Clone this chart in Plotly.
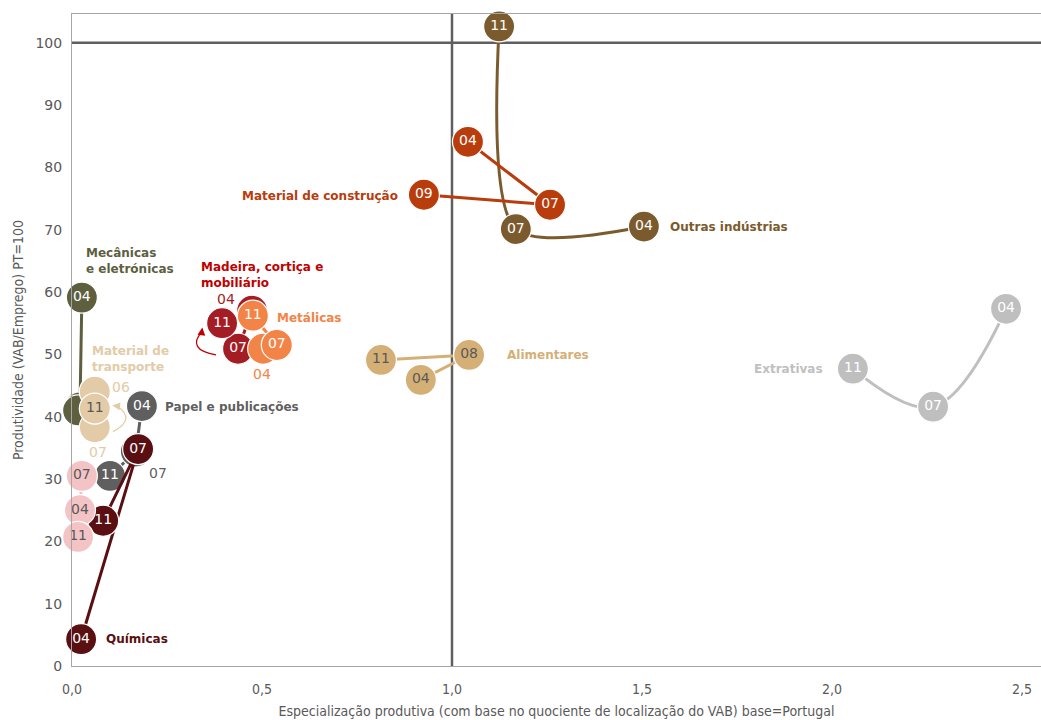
import plotly.graph_objects as go

# ---------------- data ----------------
outras_x = [1.505, 1.168, 1.124]; outras_y = [70.5, 70.1, 102.6]; outras_lbl = ["04", "07", "11"]
constr_x = [1.042, 1.258, 0.926]; constr_y = [84.1, 74.0, 75.6]; constr_lbl = ["04", "07", "09"]
alim_x = [0.918, 1.045, 0.813]; alim_y = [45.9, 49.9, 49.1]; alim_lbl = ["04", "08", "11"]
extr_x = [2.458, 2.266, 2.055]; extr_y = [57.3, 41.6, 47.7]; extr_lbl = ["04", "07", "11"]
mec_x = [0.026, 0.021, 0.016]; mec_y = [59.1, 41.5, 41.0]; mec_lbl = ["04", "", ""]
transp_x = [0.060, 0.060, 0.060]; transp_y = [44.0, 38.3, 41.3]; transp_lbl = ["", "", "11"]
papel_x = [0.184, 0.168, 0.100]; papel_y = [41.7, 34.4, 30.5]; papel_lbl = ["04", "", "11"]
quim_x = [0.024, 0.174, 0.082]; quim_y = [4.3, 34.8, 23.3]; quim_lbl = ["04", "07", "11"]
text_x = [0.021, 0.026, 0.016]; text_y = [25.0, 30.5, 20.7]; text_lbl = ["04", "07", "11"]
mad_x = [0.474, 0.437, 0.395]; mad_y = [57.0, 50.9, 55.0]; mad_lbl = ["", "07", "11"]
met_x = [0.503, 0.539, 0.476]; met_y = [50.9, 51.5, 56.2]; met_lbl = ["", "07", "11"]

x_ticks = [0, 0.5, 1.0, 1.5, 2.0, 2.5]
y_ticks = [0, 10, 20, 30, 40, 50, 60, 70, 80, 90, 100]

FONT = "DejaVu Sans"
COND = "DejaVu Sans Condensed"
GREY = "#595959"

fig = go.Figure()

# reference lines
fig.add_shape(type="line", xref="x", yref="y", x0=0, x1=2.6, y0=100, y1=100,
              line=dict(color="#5f5f5f", width=2.5), layer="below")
fig.add_shape(type="line", xref="x", yref="y", x0=1.0, x1=1.0, y0=0, y1=104.6,
              line=dict(color="#5f5f5f", width=2.5), layer="below")


def series(xs, ys, lbls, color, tcolor, lines=True, spline=False, smoothing=1.0):
    fig.add_trace(go.Scatter(
        x=xs, y=ys, text=lbls,
        mode=("lines+markers+text" if lines else "markers+text"),
        line=dict(color=color, width=3, shape=("spline" if spline else "linear"), smoothing=smoothing),
        marker=dict(size=31, color=color, line=dict(color="white", width=1.2)),
        textposition="middle center",
        textfont=dict(family=FONT, size=14, color=tcolor),
        cliponaxis=False, hoverinfo="skip", showlegend=False))


series(extr_x, extr_y, extr_lbl, "#bfbfbf", "white", spline=True, smoothing=1.1)
series(outras_x, outras_y, outras_lbl, "#7b5b2d", "white", spline=True, smoothing=0.8)
series(constr_x, constr_y, constr_lbl, "#b83c0c", "white")
series(alim_x, alim_y, alim_lbl, "#d4b077", GREY)
series(mec_x[:2], mec_y[:2], mec_lbl[:2], "#5d5f3f", "white")
series(mec_x[2:], mec_y[2:], mec_lbl[2:], "#5d5f3f", "white", lines=False)
series(transp_x, transp_y, transp_lbl, "#e3cba7", GREY, lines=False)
series(papel_x, papel_y, papel_lbl, "#5f5f5f", "white")
series(quim_x, quim_y, quim_lbl, "#5a0f12", "white")
series(text_x[:2], text_y[:2], text_lbl[:2], "#f4c3c5", GREY)
series(text_x[2:], text_y[2:], text_lbl[2:], "#f4c3c5", GREY, lines=False)
series(mad_x[:2], mad_y[:2], mad_lbl[:2], "#a51d24", "white")
series(mad_x[2:], mad_y[2:], mad_lbl[2:], "#a51d24", "white", lines=False)
series(met_x, met_y, met_lbl, "#f28448", "white")


def label(x, y, txt, color, anchor="left", bold=True, size=12):
    fig.add_annotation(x=x, y=y, xref="x", yref="y", text=(f"<b>{txt}</b>" if bold else txt),
                       showarrow=False, xanchor=anchor, yanchor="middle",
                       align=anchor if anchor != "center" else "center",
                       font=dict(family=FONT, size=size, color=color))


label(1.568, 70.5, "Outras indústrias", "#7b5b2d")
label(0.863, 75.4, "Material de construção", "#b83c0c", anchor="right")
label(1.139, 49.9, "Alimentares", "#d4b077")
label(1.982, 47.7, "Extrativas", "#bfbfbf", anchor="right")
label(0.032, 65.0, "Mecânicas<br>e eletrónicas", "#5d5f3f")
label(0.334, 62.8, "Madeira, cortiça e<br>mobiliário", "#c00000")
label(0.534, 55.9, "Metálicas", "#f28448")
label(0.047, 49.3, "Material de<br>transporte", "#e3cba7")
label(0.239, 41.6, "Papel e publicações", "#5f5f5f")
label(-0.053, 14.2, "Têxtil,<br>vestuário<br>e calçado", "#f4c3c5", anchor="center")
label(0.084, 4.3, "Químicas", "#5a0f12")

# year labels placed outside markers
label(-0.026, 44.8, "07", "#5d5f3f", anchor="center", bold=False, size=14)
label(-0.013, 36.3, "11", "#5d5f3f", anchor="center", bold=False, size=14)
label(0.129, 44.8, "06", "#e3cba7", anchor="center", bold=False, size=14)
label(0.068, 34.3, "07", "#e3cba7", anchor="center", bold=False, size=14)
label(0.226, 31.0, "07", "#5f5f5f", anchor="center", bold=False, size=14)
label(0.405, 58.9, "04", "#a51d24", anchor="center", bold=False, size=14)
label(0.500, 46.9, "04", "#f28448", anchor="center", bold=False, size=14)

# curved arrows
fig.add_shape(type="path", xref="x", yref="y", path="M 0.379,49.9 Q 0.300,50.8 0.342,53.6",
              line=dict(color="#c00000", width=1.3))
fig.add_annotation(x=0.343, y=54.3, xref="x", yref="y", ax=-1, ay=8, showarrow=True, text="",
                   arrowhead=2, arrowsize=1.2, arrowwidth=1.3, arrowcolor="#c00000")
fig.add_shape(type="path", xref="x", yref="y", path="M 0.108,37.6 Q 0.170,39.6 0.118,41.7",
              line=dict(color="#e3cba7", width=1.3))
fig.add_annotation(x=0.106, y=41.8, xref="x", yref="y", ax=8, ay=1, showarrow=True, text="",
                   arrowhead=2, arrowsize=1.2, arrowwidth=1.3, arrowcolor="#e3cba7")

fig.update_layout(
    width=1041, height=720,
    margin=dict(l=72, r=0, t=14, b=54, autoexpand=False),
    plot_bgcolor="white", paper_bgcolor="white",
    separators=",.",
    font=dict(family=FONT, color=GREY),
    xaxis=dict(range=[0, 2.55], tickvals=x_ticks, tickformat=".1f", showgrid=False, zeroline=False,
               showline=True, mirror=True, linecolor="#a6a6a6", linewidth=1, ticks="",
               automargin=False,
               tickfont=dict(family=COND, size=14, color=GREY),
               ticklabelstandoff=10,
               title=dict(text="Especialização produtiva (com base no quociente de localização do VAB) base=Portugal",
                          font=dict(family=COND, size=14, color=GREY), standoff=10)),
    yaxis=dict(range=[0, 104.6], tickvals=y_ticks, showgrid=False, zeroline=False,
               showline=True, mirror=False, linecolor="#a6a6a6", linewidth=1, ticks="",
               automargin=False,
               tickfont=dict(family=FONT, size=14, color=GREY), ticklabelstandoff=6,
               title=dict(text="Produtividade (VAB/Emprego) PT=100",
                          font=dict(family=COND, size=14, color=GREY), standoff=8)),
)

fig.write_html("out.html", config={"displayModeBar": False},
               post_script="document.body.style.margin='0';")
